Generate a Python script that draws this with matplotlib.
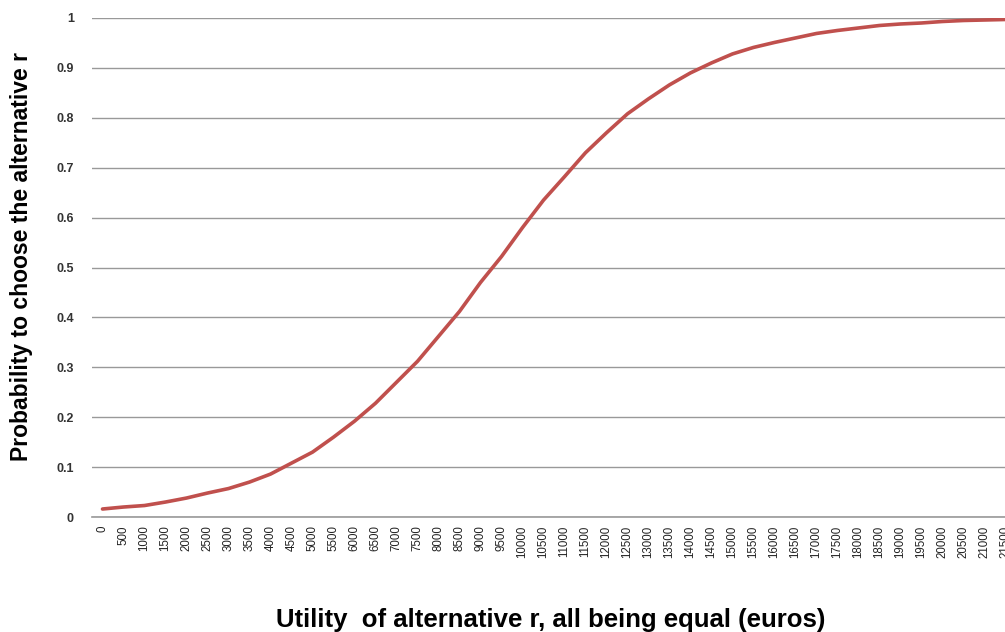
import matplotlib
matplotlib.use("Agg")
import matplotlib.pyplot as plt

utility = list(range(0, 22000, 500))
probability = [0.016, 0.020, 0.023, 0.030, 0.038, 0.048, 0.057, 0.070, 0.086, 0.108,
               0.130, 0.160, 0.192, 0.228, 0.270, 0.312, 0.362, 0.412, 0.470, 0.522,
               0.580, 0.635, 0.682, 0.730, 0.770, 0.808, 0.838, 0.866, 0.890, 0.910,
               0.928, 0.941, 0.951, 0.960, 0.969, 0.975, 0.980, 0.985, 0.988, 0.990,
               0.993, 0.995, 0.996, 0.997]
y_ticks = [0, 0.1, 0.2, 0.3, 0.4, 0.5, 0.6, 0.7, 0.8, 0.9, 1]
y_tick_labels = ["0", "0.1", "0.2", "0.3", "0.4", "0.5", "0.6", "0.7", "0.8", "0.9", "1"]

W, H = 1005, 632
fig = plt.figure(figsize=(W / 100, H / 100), dpi=100)
left, right, top, bottom = 92, 1016, 18, 517
ax = fig.add_axes([left / W, (H - bottom) / H, (right - left) / W, (bottom - top) / H])

x = list(range(len(utility)))
ax.plot(x, probability, color="#C0504D", lw=2.6, solid_capstyle="round", zorder=3)

ax.set_xlim(-0.5, len(utility) - 0.5)
ax.set_ylim(0, 1)
ax.set_yticks(y_ticks)
ax.set_yticklabels(y_tick_labels, fontsize=9, color="#333333", family="Liberation Sans",
                   fontweight="bold")
ax.set_xticks(x)
ax.set_xticklabels([str(u) for u in utility], rotation=90, fontsize=8.3, family="Liberation Sans",
                   color="#222222")
ax.tick_params(axis="both", length=0)
ax.tick_params(axis="y", pad=13)
ax.tick_params(axis="x", pad=6)

ax.grid(axis="y", color="#999999", lw=1)
ax.set_axisbelow(True)
for s in ["left", "right", "top"]:
    ax.spines[s].set_visible(False)
ax.spines["bottom"].set_color("#999999")
ax.spines["bottom"].set_linewidth(1.2)

fig.text(22 / W, 1 - 257 / H, "Probability to choose the alternative r", rotation=90,
         ha="center", va="center", fontsize=16.5, fontweight="bold", family="Liberation Sans")
fig.text(551 / W, 1 - 627 / H, "Utility  of alternative r, all being equal (euros)",
         ha="center", va="baseline", fontsize=18.5, fontweight="bold", family="Liberation Sans")

fig.savefig("out.png", dpi=100)
